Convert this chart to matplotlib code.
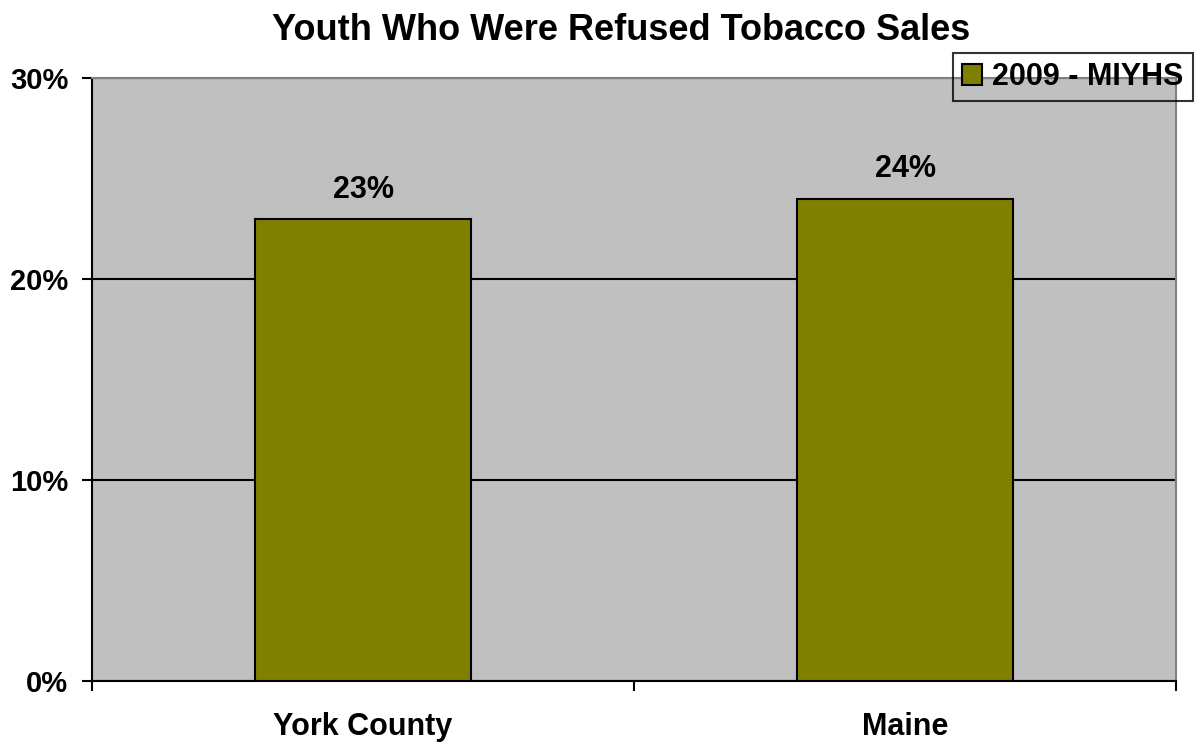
import matplotlib
matplotlib.use("Agg")
import matplotlib.pyplot as plt
from matplotlib.ticker import FuncFormatter, MultipleLocator

plt.rcParams['font.family'] = ['Liberation Sans', 'DejaVu Sans']

categories = ["York County", "Maine"]
values = [23, 24]
series_name = "2009 - MIYHS"
title = "Youth Who Were Refused Tobacco Sales"

fig = plt.figure(figsize=(11.95, 7.44), dpi=100)
ax = fig.add_axes([92/1195, 63/744, (1176-92)/1195, (681-78)/744])
ax.set_facecolor("#C0C0C0")

x = list(range(len(categories)))
bars = ax.bar(x, values, width=0.4, color="#808000", edgecolor="black", linewidth=1.5,
              label=series_name, zorder=3)
for xi, v in zip(x, values):
    ax.text(xi, v + 1.05, f"{v}%", ha="center", va="baseline", fontsize=22, fontweight="bold", zorder=4)

ax.set_xlim(-0.5, len(categories) - 0.5)
ax.set_ylim(0, 30)
ax.yaxis.set_major_locator(MultipleLocator(10))
ax.yaxis.set_major_formatter(FuncFormatter(lambda v, p: f"{int(v)}%"))
ax.grid(axis="y", color="black", linewidth=1.5, zorder=1)

ax.set_xticks([i - 0.5 for i in range(len(categories) + 1)])
ax.set_xticklabels([])
ax.set_xticks(x, minor=True)
ax.set_xticklabels(categories, minor=True, fontsize=22, fontweight="bold")
ax.tick_params(axis="x", which="minor", length=0, pad=22)
ax.tick_params(axis="x", which="major", length=7, width=1.5, direction="out")
ax.tick_params(axis="y", length=7, width=1.5, direction="out", labelsize=21, pad=10)
for lbl in ax.get_yticklabels():
    lbl.set_fontweight("bold")

for s in ["left", "bottom"]:
    ax.spines[s].set_color("black")
    ax.spines[s].set_linewidth(1.5)
for s in ["top", "right"]:
    ax.spines[s].set_color("#808080")
    ax.spines[s].set_linewidth(1.5)

fig.text((273+970)/2/1195, 1-40/744, title, ha="center", va="baseline", fontsize=26, fontweight="bold")

leg = fig.legend(handles=[bars], labels=[series_name], loc="upper right",
                 bbox_to_anchor=(1193/1195, 1-53/744), prop={"size": 22, "weight": "bold"},
                 frameon=True, fancybox=False, edgecolor="black", facecolor="none",
                 borderpad=0.3, handlelength=0.65, handleheight=0.65,
                 handletextpad=0.35, borderaxespad=0)
leg.get_frame().set_linewidth(1.5)

fig.savefig("out.png", dpi=100)
